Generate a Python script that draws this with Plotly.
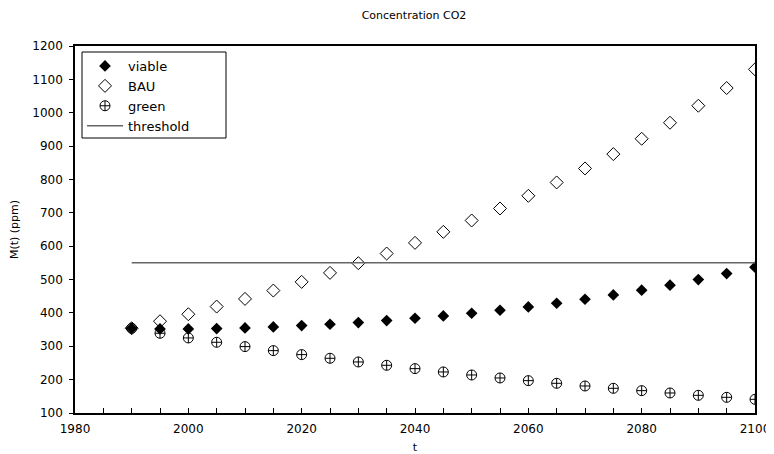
import plotly.graph_objects as go

years = [1990, 1995, 2000, 2005, 2010, 2015, 2020, 2025, 2030, 2035, 2040, 2045,
         2050, 2055, 2060, 2065, 2070, 2075, 2080, 2085, 2090, 2095, 2100]
viable = [354, 352, 352, 353, 355, 358, 362, 366, 371, 377, 384, 391,
          399, 408, 418, 429, 441, 454, 468, 483, 500, 518, 537]
bau = [354, 375, 396, 419, 442, 467, 493, 520, 549, 578, 610, 643,
       677, 713, 751, 791, 833, 876, 922, 970, 1021, 1074, 1130]
green = [354, 339, 325, 312, 299, 287, 275, 264, 253, 243, 233, 223,
         214, 205, 197, 189, 181, 174, 167, 160, 153, 147, 141]
threshold_value = 550
threshold_years = [1990, 2100]

FONT = "DejaVu Sans"

fig = go.Figure()
fig.add_trace(go.Scatter(x=years, y=viable, mode="markers", name="viable",
                         marker=dict(symbol="diamond", size=9, color="black",
                                     line=dict(width=0))))
fig.add_trace(go.Scatter(x=years, y=bau, mode="markers", name="BAU",
                         marker=dict(symbol="diamond-open", size=10, color="black",
                                     line=dict(width=1, color="black"))))
fig.add_trace(go.Scatter(x=years, y=green, mode="markers", name="green",
                         marker=dict(symbol="circle-cross-open", size=10, color="black",
                                     line=dict(width=1, color="black"))))
fig.add_trace(go.Scatter(x=threshold_years, y=[threshold_value] * len(threshold_years),
                         mode="lines", name="threshold",
                         line=dict(color="#666666", width=1.5)))

# page body has an 8px margin; target plot area in page px: x 75..755, y 46..413
OFF = 8
W, H = 774 - OFF, 454 - OFF
L, T = 75 - OFF, 46 - OFF
R, B = 19, 41
pw, ph = W - L - R, H - T - B

def px2x(p):
    return (p - OFF - L) / pw

def px2y(p):
    return (H - B - (p - OFF)) / ph

fig.add_shape(type="rect", xref="paper", yref="paper",
              x0=px2x(82), x1=px2x(226), y0=px2y(138), y1=px2y(52),
              line=dict(color="black", width=1), fillcolor="white", layer="below")

fig.update_layout(
    width=W, height=H,
    margin=dict(l=L, r=R, t=T, b=B, pad=0, autoexpand=False),
    paper_bgcolor="white", plot_bgcolor="white",
    font=dict(family=FONT, size=12, color="black"),
    title=dict(text="Concentration CO2", x=(414 - OFF) / W, xanchor="center",
               y=1 - (15 - OFF) / H, yanchor="middle", font=dict(size=11, family=FONT)),
    showlegend=True,
    legend=dict(x=px2x(82), y=px2y(51), xanchor="left", yanchor="top",
                bgcolor="rgba(0,0,0,0)", borderwidth=0, itemwidth=36,
                font=dict(size=13, family=FONT), tracegroupgap=0),
    xaxis=dict(range=[1980, 2100], showgrid=False, zeroline=False, automargin=False,
               showline=True, linecolor="black", linewidth=1.5, mirror=True,
               ticks="inside", ticklen=5, tickwidth=1, tickcolor="black",
               dtick=20, tick0=1980, ticklabelstandoff=4,
               minor=dict(dtick=5, tick0=1980, ticks="inside", ticklen=5,
                          tickcolor="black", showgrid=False),
               title=dict(text="t", standoff=12, font=dict(size=11)),
               tickfont=dict(size=12)),
    yaxis=dict(range=[100, 1200], showgrid=False, zeroline=False, automargin=False,
               showline=True, linecolor="black", linewidth=1.5, mirror=True,
               ticks="outside", ticklen=4, tickwidth=1, tickcolor="black",
               dtick=100, tick0=100, ticklabelstandoff=4,
               title=dict(text="M(t) (ppm)", standoff=14, font=dict(size=11)),
               tickfont=dict(size=12)),
)

fig.write_html("out.html")
